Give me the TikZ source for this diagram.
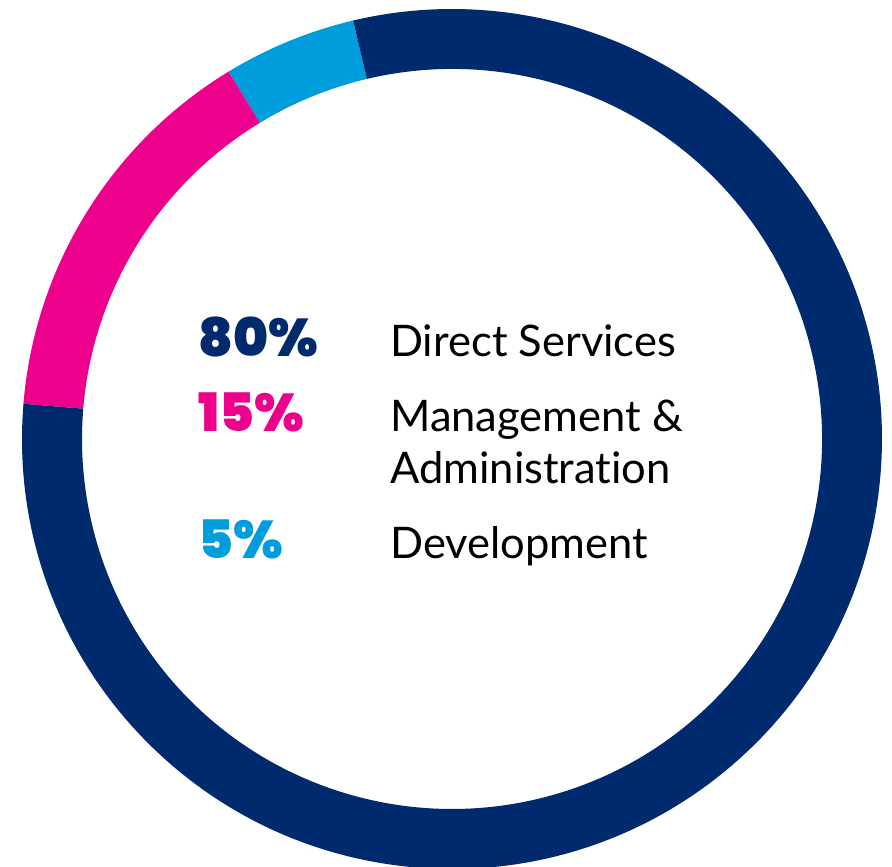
\documentclass[tikz,border=0pt]{standalone}
\usepackage{fontspec}
\setmainfont{Lato}[Ligatures=NoCommon]
\newfontfamily\pctfont{Poppins}[BoldFont={Poppins Black}]
\usepackage{tikz}
\usepackage{xcolor}
\definecolor{mynavy}{RGB}{0, 42, 110}
\definecolor{mypink}{RGB}{236, 0, 140}
\definecolor{mycyan}{RGB}{0, 157, 220}

\begin{document}
\begin{tikzpicture}[
            x=1pt, y=1pt,
            pct/.style={
                anchor=base west,
                inner sep=0pt,
                text=#1,
                font=\pctfont\bfseries\fontsize{53}{53}\selectfont
            },
            lbl/.style={
                anchor=base west,
                inner sep=0pt,
                align=left,
                font=\fontsize{43.5}{52}\selectfont
            }
        ]

            \useasboundingbox (0,0) rectangle (892,867);

            % Ring
            \coordinate (centre) at (452,428);
            \foreach \col/\from/\to in {mycyan/103.3/121.3, mypink/121.3/175.3, mynavy/175.3/463.3} {
                \fill[\col, shift={(centre)}] (\from:430) arc[start angle=\from, end angle=\to, radius=430]
                    -- (\to:370) arc[start angle=\to, end angle=\from, radius=370] -- cycle;
            }

            % Percentages
            \node[pct=mynavy] (direct) at (198,510) {80\%};
            \node[pct=mypink] (management) at (198,435) {15\%};
            \node[pct=mycyan] (development) at (198,308) {5\%};

            % Labels
            \node[lbl] (directlbl) at (390,510) {Direct Services};
            \node[lbl] (managementlbl) at (390,383) {Management \&\\Administration};
            \node[lbl] (developmentlbl) at (390,308) {Development};
        \end{tikzpicture}
\end{document}
